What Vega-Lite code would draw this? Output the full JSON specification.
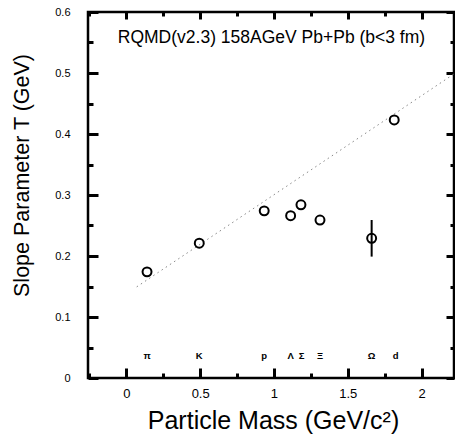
{
  "$schema": "https://vega.github.io/schema/vega-lite/v6.json",
  "width": 366,
  "height": 366,
  "autosize": {"type": "none"},
  "padding": {"left": 88, "top": 12, "right": 1, "bottom": 56},
  "background": "white",
  "config": {
    "font": "Liberation Sans",
    "view": {"stroke": "black", "strokeWidth": 2.5}
  },
  "datasets": {
    "fit": [
      {"mass": 0.07, "T": 0.1494},
      {"mass": 2.22, "T": 0.4985}
    ],
    "particles": [
      {"particle": "π", "mass": 0.140, "T": 0.174},
      {"particle": "K", "mass": 0.494, "T": 0.221},
      {"particle": "p", "mass": 0.934, "T": 0.274},
      {"particle": "Λ", "mass": 1.113, "T": 0.266},
      {"particle": "Σ", "mass": 1.183, "T": 0.284},
      {"particle": "Ξ", "mass": 1.312, "T": 0.259},
      {"particle": "Ω", "mass": 1.662, "T": 0.229},
      {"particle": "d", "mass": 1.815, "T": 0.423}
    ],
    "errors": [
      {"particle": "Ω", "mass": 1.662, "lo": 0.199, "hi": 0.259}
    ],
    "names": [
      {"particle": "π", "mass": 0.140, "pos": 0.036},
      {"particle": "K", "mass": 0.494, "pos": 0.036},
      {"particle": "p", "mass": 0.934, "pos": 0.036},
      {"particle": "Λ", "mass": 1.113, "pos": 0.036},
      {"particle": "Σ", "mass": 1.188, "pos": 0.036},
      {"particle": "Ξ", "mass": 1.312, "pos": 0.036},
      {"particle": "Ω", "mass": 1.662, "pos": 0.036},
      {"particle": "d", "mass": 1.825, "pos": 0.036}
    ],
    "note": [
      {"label": "RQMD(v2.3) 158AGeV Pb+Pb (b<3 fm)", "mass": 0.983, "T": 0.55}
    ]
  },
  "layer": [
    {
      "data": {"name": "fit"},
      "mark": {"type": "line", "color": "#888888", "strokeWidth": 1, "strokeDash": [1.5, 3.5]},
      "encoding": {
        "x": {
          "field": "mass", "type": "quantitative",
          "scale": {"domain": [-0.26, 2.22], "nice": false, "zero": false},
          "axis": {
            "orient": "bottom",
            "values": [0, 0.5, 1, 1.5, 2],
            "format": "~g",
            "grid": false,
            "domain": false,
            "tickColor": "black",
            "tickWidth": 3,
            "tickSize": -10,
            "labelPadding": 19,
            "labelFontSize": 13,
            "labelColor": "black",
            "labelFont": "Liberation Sans",
            "title": "Particle Mass (GeV/c²)",
            "titleFont": "Liberation Sans",
            "titleFontWeight": "normal",
            "titleColor": "black",
            "titleFontSize": 25,
            "titleX": 185,
            "titleY": 50,
            "titleBaseline": "alphabetic",
            "titleAlign": "center"
          }
        },
        "y": {
          "field": "T", "type": "quantitative",
          "scale": {"domain": [0, 0.6], "nice": false, "zero": false},
          "axis": {
            "orient": "left",
            "values": [0, 0.1, 0.2, 0.3, 0.4, 0.5, 0.6],
            "format": "~g",
            "grid": false,
            "domain": false,
            "tickColor": "black",
            "tickWidth": 3,
            "tickSize": -10,
            "labelPadding": 28,
            "labelFontSize": 11,
            "labelColor": "black",
            "labelFont": "Liberation Sans",
            "title": "Slope Parameter T (GeV)",
            "titleFont": "Liberation Sans",
            "titleFontWeight": "normal",
            "titleColor": "black",
            "titleFontSize": 21.5,
            "titleX": -60,
            "titleY": 163,
            "titleAngle": -90,
            "titleBaseline": "alphabetic",
            "titleAlign": "center"
          }
        }
      }
    },
    {
      "data": {"name": "particles"},
      "mark": {"type": "point", "shape": "circle", "filled": false, "size": 80, "strokeWidth": 2, "color": "black", "opacity": 1},
      "encoding": {
        "x": {
          "field": "mass", "type": "quantitative",
          "scale": {"domain": [-0.26, 2.22], "nice": false, "zero": false},
          "axis": {"orient": "bottom", "values": [-0.25, 0.25, 0.75, 1.25, 1.75], "grid": false, "domain": false, "tickColor": "black", "tickWidth": 3, "tickSize": -5, "labels": false, "title": null}
        },
        "y": {
          "field": "T", "type": "quantitative",
          "scale": {"domain": [0, 0.6], "nice": false, "zero": false},
          "axis": {"orient": "left", "values": [0.05, 0.15, 0.25, 0.35, 0.45, 0.55], "grid": false, "domain": false, "tickColor": "black", "tickWidth": 3, "tickSize": -5, "labels": false, "title": null}
        }
      }
    },
    {
      "data": {"name": "errors"},
      "mark": {"type": "rule", "color": "black", "strokeWidth": 2},
      "encoding": {
        "x": {
          "field": "mass", "type": "quantitative",
          "scale": {"domain": [-0.26, 2.22], "nice": false, "zero": false},
          "axis": {"orient": "top", "values": [0, 0.5, 1, 1.5, 2], "grid": false, "domain": false, "tickColor": "black", "tickWidth": 3, "tickSize": -7, "labels": false, "title": null}
        },
        "y": {
          "field": "lo", "type": "quantitative",
          "scale": {"domain": [0, 0.6], "nice": false, "zero": false},
          "axis": {"orient": "right", "values": [0, 0.1, 0.2, 0.3, 0.4, 0.5, 0.6], "grid": false, "domain": false, "tickColor": "black", "tickWidth": 3, "tickSize": -8, "labels": false, "title": null}
        },
        "y2": {"field": "hi"}
      }
    },
    {
      "data": {"name": "names"},
      "mark": {"type": "text", "fontSize": 9.5, "fontWeight": "bold", "color": "black", "baseline": "middle", "align": "center"},
      "encoding": {
        "text": {"field": "particle"},
        "x": {
          "field": "mass", "type": "quantitative",
          "scale": {"domain": [-0.26, 2.22], "nice": false, "zero": false},
          "axis": {"orient": "top", "values": [-0.25, 0.25, 0.75, 1.25, 1.75], "grid": false, "domain": false, "tickColor": "black", "tickWidth": 3, "tickSize": -4, "labels": false, "title": null}
        },
        "y": {
          "field": "pos", "type": "quantitative",
          "scale": {"domain": [0, 0.6], "nice": false, "zero": false},
          "axis": {"orient": "right", "values": [0.05, 0.15, 0.25, 0.35, 0.45, 0.55], "grid": false, "domain": false, "tickColor": "black", "tickWidth": 3, "tickSize": -4, "labels": false, "title": null}
        }
      }
    },
    {
      "data": {"name": "note"},
      "mark": {"type": "text", "fontSize": 17.5, "color": "black", "baseline": "alphabetic", "align": "center"},
      "encoding": {
        "text": {"field": "label"},
        "x": {"field": "mass", "type": "quantitative", "scale": {"domain": [-0.26, 2.22], "nice": false, "zero": false}, "axis": null},
        "y": {"field": "T", "type": "quantitative", "scale": {"domain": [0, 0.6], "nice": false, "zero": false}, "axis": null}
      }
    }
  ],
  "resolve": {"axis": {"x": "independent", "y": "independent"}}
}
